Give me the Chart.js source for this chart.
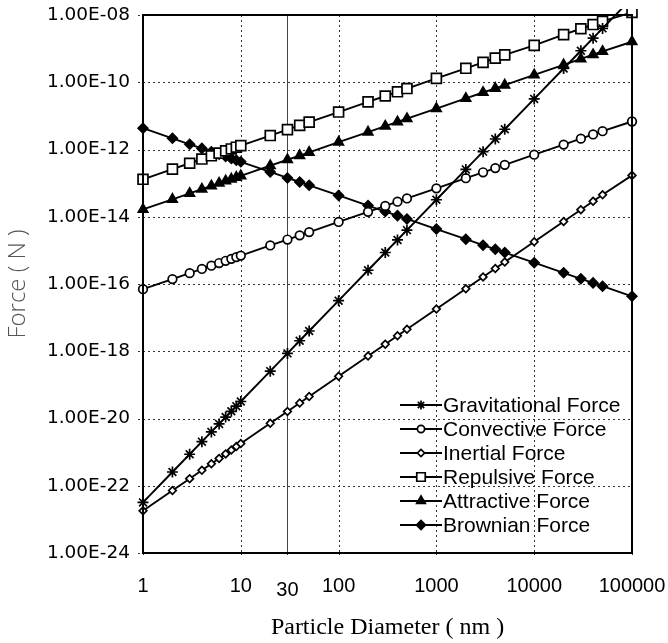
<!DOCTYPE html>
<html>
<head>
<meta charset="utf-8">
<script src="https://cdn.jsdelivr.net/npm/chart.js@4.4.0/dist/chart.umd.min.js"></script>
<style>
  html, body { margin: 0; padding: 0; background: #ffffff; }
  #wrap { width: 668px; height: 643px; position: relative; }
</style>
</head>
<body>
<div id="wrap"><canvas id="c" width="668" height="643"></canvas></div>
<script>
// ---- data ----
const diameters = [1, 2, 3, 4, 5, 6, 7, 8, 9, 10, 20, 30, 40, 50, 100, 200, 300, 400, 500,
  1000, 2000, 3000, 4000, 5000, 10000, 20000, 30000, 40000, 50000, 100000];

const gravitational = [3.2e-23, 2.56e-22, 8.64e-22, 2.05e-21, 4.0e-21, 6.91e-21, 1.10e-20, 1.64e-20, 2.33e-20, 3.2e-20,
  2.56e-19, 8.64e-19, 2.05e-18, 4.0e-18, 3.2e-17, 2.56e-16, 8.64e-16, 2.05e-15, 4.0e-15,
  3.2e-14, 2.56e-13, 8.64e-13, 2.05e-12, 4.0e-12, 3.2e-11, 2.56e-10, 8.64e-10, 2.05e-9, 4.0e-9, 3.2e-8];

const convective = [7.0e-17, 1.4e-16, 2.1e-16, 2.8e-16, 3.5e-16, 4.2e-16, 4.9e-16, 5.6e-16, 6.3e-16, 7.0e-16,
  1.4e-15, 2.1e-15, 2.8e-15, 3.5e-15, 7.0e-15, 1.4e-14, 2.1e-14, 2.8e-14, 3.5e-14,
  7.0e-14, 1.4e-13, 2.1e-13, 2.8e-13, 3.5e-13, 7.0e-13, 1.4e-12, 2.1e-12, 2.8e-12, 3.5e-12, 6.8e-12];

const inertial = [1.8e-23, 7.2e-23, 1.62e-22, 2.88e-22, 4.5e-22, 6.48e-22, 8.82e-22, 1.15e-21, 1.46e-21, 1.8e-21,
  7.2e-21, 1.62e-20, 2.88e-20, 4.5e-20, 1.8e-19, 7.2e-19, 1.62e-18, 2.88e-18, 4.5e-18,
  1.8e-17, 7.2e-17, 1.62e-16, 2.88e-16, 4.5e-16, 1.8e-15, 7.2e-15, 1.62e-14, 2.88e-14, 4.5e-14, 1.7e-13];

const repulsive = [1.3e-13, 2.6e-13, 3.9e-13, 5.2e-13, 6.5e-13, 7.8e-13, 9.1e-13, 1.04e-12, 1.17e-12, 1.3e-12,
  2.6e-12, 3.9e-12, 5.2e-12, 6.5e-12, 1.3e-11, 2.6e-11, 3.9e-11, 5.2e-11, 6.5e-11,
  1.3e-10, 2.6e-10, 3.9e-10, 5.2e-10, 6.5e-10, 1.25e-9, 2.6e-9, 3.9e-9, 5.2e-9, 6.5e-9, 1.2e-8];

const attractive = [1.65e-14, 3.3e-14, 4.95e-14, 6.6e-14, 8.25e-14, 9.9e-14, 1.16e-13, 1.32e-13, 1.49e-13, 1.65e-13,
  3.3e-13, 4.95e-13, 6.6e-13, 8.25e-13, 1.65e-12, 3.3e-12, 4.95e-12, 6.6e-12, 8.25e-12,
  1.65e-11, 3.3e-11, 4.95e-11, 6.6e-11, 8.25e-11, 1.65e-10, 3.3e-10, 4.95e-10, 6.6e-10, 8.25e-10, 1.6e-9];

const brownian = [4.3e-12, 2.15e-12, 1.43e-12, 1.08e-12, 8.6e-13, 7.17e-13, 6.14e-13, 5.38e-13, 4.78e-13, 4.3e-13,
  2.15e-13, 1.43e-13, 1.08e-13, 8.6e-14, 4.3e-14, 2.15e-14, 1.43e-14, 1.08e-14, 8.6e-15,
  4.3e-15, 2.15e-15, 1.43e-15, 1.08e-15, 8.6e-16, 4.3e-16, 2.15e-16, 1.43e-16, 1.08e-16, 8.6e-17, 4.3e-17];

const seriesNames = ['Gravitational Force', 'Convective Force', 'Inertial Force',
  'Repulsive Force', 'Attractive Force', 'Brownian Force'];

const xTickValues = [1, 10, 30, 100, 1000, 10000, 100000];
const xGridValues = [10, 100, 1000, 10000];
const markedDiameter = [30];
const yTickValues = [1e-24, 1e-22, 1e-20, 1e-18, 1e-16, 1e-14, 1e-12, 1e-10, 1e-8];

const xTitle = 'Particle Diameter ( nm )';
const yTitle = 'Force ( N )';

// ---- styling ----
const styles = [
  { pointStyle: 'star',     radius: 5.5, fill: '#000000', legendRadius: 4.5 },
  { pointStyle: 'circle',   radius: 4.3, fill: '#ffffff', legendRadius: 3.6 },
  { pointStyle: 'rectRot',  radius: 3.8, fill: '#ffffff', legendRadius: 3.6 },
  { pointStyle: 'rect',     radius: 7,   fill: '#ffffff', legendRadius: 6 },
  { pointStyle: 'triangle', radius: 5.5, fill: '#000000', legendRadius: 5 },
  { pointStyle: 'rectRot',  radius: 4.8, fill: '#000000', legendRadius: 4.5 }
];
const seriesData = [gravitational, convective, inertial, repulsive, attractive, brownian];

function sci(v) {
  const e = Math.round(Math.log10(v));
  return '1.00E' + (e < 0 ? '-' : '+') + String(Math.abs(e)).padStart(2, '0');
}

function drawMarker(ctx, style, x, y, r, fill) {
  ctx.save();
  ctx.beginPath();
  if (style === 'circle') {
    ctx.arc(x, y, r, 0, Math.PI * 2);
  } else if (style === 'rect') {
    const s = r * Math.SQRT1_2;
    ctx.rect(x - s, y - s, 2 * s, 2 * s);
  } else if (style === 'rectRot') {
    ctx.moveTo(x - r, y); ctx.lineTo(x, y - r); ctx.lineTo(x + r, y); ctx.lineTo(x, y + r); ctx.closePath();
  } else if (style === 'triangle') {
    for (let k = 0; k < 3; k++) {
      const a = -Math.PI / 2 + k * 2 * Math.PI / 3;
      const px = x + Math.cos(a) * r, py = y + Math.sin(a) * r;
      if (k === 0) ctx.moveTo(px, py); else ctx.lineTo(px, py);
    }
    ctx.closePath();
  } else if (style === 'star') {
    for (let k = 0; k < 4; k++) {
      const a = k * Math.PI / 4;
      ctx.moveTo(x - Math.cos(a) * r, y - Math.sin(a) * r);
      ctx.lineTo(x + Math.cos(a) * r, y + Math.sin(a) * r);
    }
  }
  if (style !== 'star') { ctx.fillStyle = fill; ctx.fill(); }
  ctx.strokeStyle = '#000';
  ctx.lineWidth = 1.7;
  ctx.stroke();
  ctx.restore();
}

const frame = {
  id: 'frame',
  beforeDatasetsDraw(chart) {
    const { ctx, chartArea: a, scales: { x, y } } = chart;
    ctx.save();
    ctx.strokeStyle = '#333';
    ctx.lineWidth = 1;
    ctx.setLineDash([2, 3]);
    ctx.beginPath();
    yTickValues.forEach(v => {
      const py = Math.round(y.getPixelForValue(v)) + 0.5;
      ctx.moveTo(a.left - 5, py); ctx.lineTo(v === 1e-24 || v === 1e-8 ? a.left : a.right, py);
    });
    xTickValues.forEach(v => {
      const px = Math.round(x.getPixelForValue(v)) + 0.5;
      ctx.moveTo(px, a.bottom); ctx.lineTo(px, a.bottom + 5);
    });
    xGridValues.forEach(v => {
      const px = Math.round(x.getPixelForValue(v)) + 0.5;
      ctx.moveTo(px, a.top); ctx.lineTo(px, a.bottom);
    });
    ctx.stroke();
    ctx.setLineDash([]);
    ctx.strokeStyle = '#444';
    ctx.beginPath();
    markedDiameter.forEach(v => {
      const px = Math.round(x.getPixelForValue(v)) + 0.5;
      ctx.moveTo(px, a.top); ctx.lineTo(px, a.bottom);
    });
    ctx.stroke();
    ctx.restore();
  },
  afterDatasetsDraw(chart) {
    const { ctx, chartArea: a } = chart;
    ctx.save();
    ctx.strokeStyle = '#000';
    ctx.lineWidth = 2;
    ctx.strokeRect(a.left, a.top, a.right - a.left, a.bottom - a.top);
    ctx.restore();
  },
  afterDraw(chart) {
    const { ctx, chartArea: a, scales: { x } } = chart;
    ctx.save();
    // offset tick label for 30
    ctx.font = '20px "Liberation Sans", Arial, sans-serif';
    ctx.fillStyle = '#000';
    ctx.textAlign = 'center';
    ctx.textBaseline = 'middle';
    markedDiameter.forEach(v => ctx.fillText(String(v), x.getPixelForValue(v), a.bottom + 37));
    // legend
    const lx0 = a.right - 232, lx1 = a.right - 190;
    ctx.font = '21px "Liberation Sans", Arial, sans-serif';
    ctx.textAlign = 'left';
    chart.data.datasets.forEach((ds, i) => {
      const ly = a.bottom - 148 + i * 24;
      ctx.strokeStyle = '#000';
      ctx.lineWidth = 2;
      ctx.beginPath(); ctx.moveTo(lx0, ly); ctx.lineTo(lx1, ly); ctx.stroke();
      drawMarker(ctx, styles[i].pointStyle, (lx0 + lx1) / 2, ly, styles[i].legendRadius, styles[i].fill);
      ctx.fillStyle = '#000';
      ctx.fillText(ds.label, lx1 + 1, ly + 1);
    });
    ctx.restore();
  }
};

const datasets = seriesData.map((arr, i) => ({
  label: seriesNames[i],
  data: diameters.map((d, j) => ({ x: d, y: arr[j] })),
  borderColor: '#000',
  borderWidth: 1.9,
  pointStyle: styles[i].pointStyle,
  pointRadius: styles[i].radius,
  pointBackgroundColor: styles[i].fill,
  pointBorderColor: '#000',
  pointBorderWidth: 1.7,
  tension: 0,
  clip: 6
}));

new Chart(document.getElementById('c'), {
  type: 'line',
  data: { datasets },
  plugins: [frame],
  options: {
    responsive: false,
    animation: false,
    devicePixelRatio: 1,
    layout: { padding: { left: 0, right: 36, top: 15, bottom: 0 } },
    plugins: { legend: { display: false }, tooltip: { enabled: false } },
    scales: {
      x: {
        type: 'logarithmic',
        min: 1, max: 100000,
        afterBuildTicks: s => { s.ticks = xTickValues.map(v => ({ value: v })); },
        afterFit: s => { s.height = 90; s.paddingLeft = 0; s.paddingRight = 0; },
        grid: { display: false },
        border: { display: false },
        ticks: {
          autoSkip: false, maxRotation: 0, padding: 13, color: '#000',
          font: { family: '"Liberation Sans", Arial, sans-serif', size: 20 },
          callback: v => markedDiameter.includes(v) ? '' : String(v)
        },
        title: {
          display: true, text: xTitle, color: '#000',
          font: { family: '"Liberation Serif", "Times New Roman", serif', size: 24 },
          padding: { top: 0, bottom: 1 }
        }
      },
      y: {
        type: 'logarithmic',
        min: 1e-24, max: 1e-8,
        afterBuildTicks: s => { s.ticks = yTickValues.map(v => ({ value: v })); },
        afterFit: s => { s.width = 143; s.paddingTop = 0; s.paddingBottom = 0; },
        grid: { display: false },
        border: { display: false },
        ticks: {
          autoSkip: false, padding: 5, color: '#000',
          font: { family: '"DejaVu Sans", sans-serif', size: 18.5 },
          callback: v => sci(v)
        },
        title: {
          display: true, text: yTitle, color: '#555',
          font: { family: '"Open Sans", "Liberation Sans", sans-serif', size: 24, weight: '300' },
          padding: { top: 4, bottom: 0 }
        }
      }
    }
  }
});
</script>
</body>
</html>
